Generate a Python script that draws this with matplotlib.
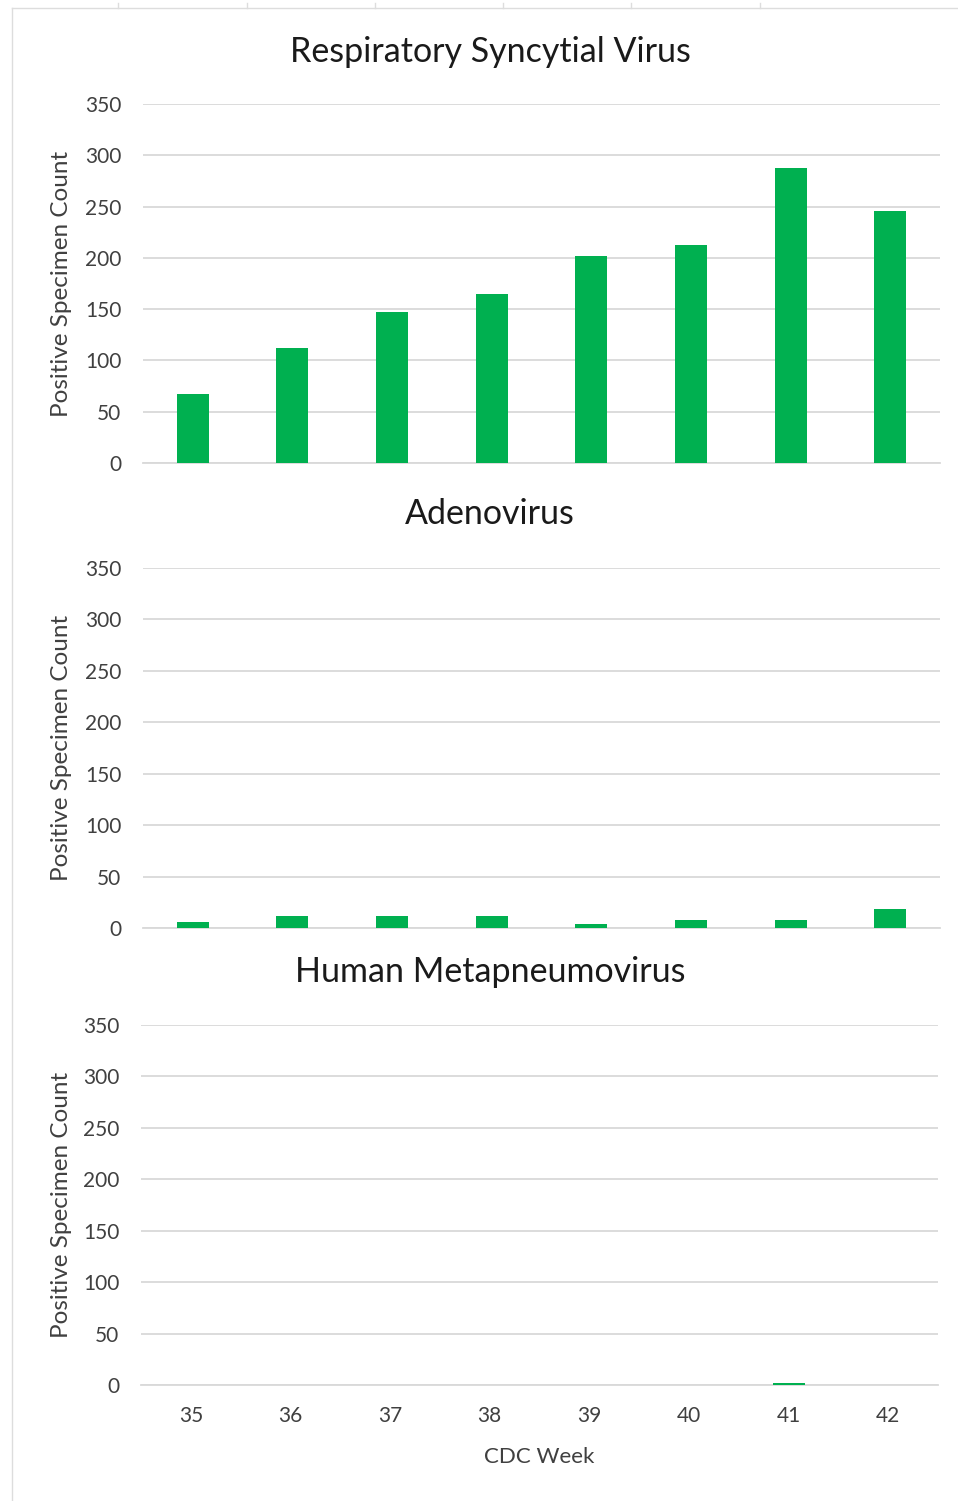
import matplotlib
matplotlib.use("Agg")
import matplotlib.pyplot as plt
from matplotlib.lines import Line2D

plt.rcParams['font.family'] = ['Lato', 'DejaVu Sans']

weeks = ["35", "36", "37", "38", "39", "40", "41", "42"]
rsv = [67, 112, 147, 165, 202, 213, 288, 246]
adeno = [6, 12, 12, 12, 4, 8, 8, 18]
hmpv = [0, 0, 0, 0, 0, 0, 2, 0]
titles = ["Respiratory Syncytial Virus", "Adenovirus", "Human Metapneumovirus"]
series = [rsv, adeno, hmpv]

W, H = 958, 1501
GREEN = "#00B050"
GRID = "#D9D9D9"
TXT = "#404040"

fig = plt.figure(figsize=(W / 100, H / 100), dpi=100)

# axes boxes in pixels: (left, right, top, bottom)
boxes = [(143, 940, 104, 463), (143, 940, 568, 928), (141, 938, 1025, 1385)]
title_y = [52, 514, 972]

x = list(range(len(weeks)))
for i, (l, r, t, b) in enumerate(boxes):
    ax = fig.add_axes([l / W, 1 - b / H, (r - l) / W, (b - t) / H])
    ax.bar(x, series[i], width=0.32, color=GREEN, zorder=3)
    ax.set_xlim(-0.5, len(weeks) - 0.5)
    ax.set_ylim(0, 350)
    ax.set_yticks(range(0, 351, 50))
    ax.yaxis.grid(True, color=GRID, linewidth=1.3, zorder=0)
    for s in ["top", "right", "left"]:
        ax.spines[s].set_visible(False)
    ax.spines["bottom"].set_color(GRID)
    ax.spines["bottom"].set_linewidth(1.3)
    ax.tick_params(axis="y", length=0, pad=15.5, labelsize=15, labelcolor=TXT)
    ax.tick_params(axis="x", length=0, pad=15, labelsize=15, labelcolor=TXT)
    ax.set_xticks(x)
    if i == 2:
        ax.set_xticklabels(weeks)
        ax.set_xlabel("CDC Week", fontsize=16, color=TXT, labelpad=15)
    else:
        ax.set_xticklabels([])
    ax.set_ylabel("Positive Specimen Count", fontsize=17.5, color=TXT)
    ax.yaxis.set_label_coords((72 - l) / (r - l), 0.5)
    fig.text(490 / W, 1 - title_y[i] / H, titles[i], ha="center", va="center",
             fontsize=24.5, color="#1a1a1a")

# faint spreadsheet border lines
fig.add_artist(Line2D([12 / W, 1], [1 - 8 / H, 1 - 8 / H], color="#DDDDDD", linewidth=1))
fig.add_artist(Line2D([12 / W, 12 / W], [0, 1 - 8 / H], color="#DDDDDD", linewidth=1))
for tx in [118, 247, 375, 503, 631, 760]:
    fig.add_artist(Line2D([tx / W, tx / W], [1 - 3 / H, 1 - 8 / H], color="#DDDDDD", linewidth=1))

fig.savefig("out.png", dpi=100)
